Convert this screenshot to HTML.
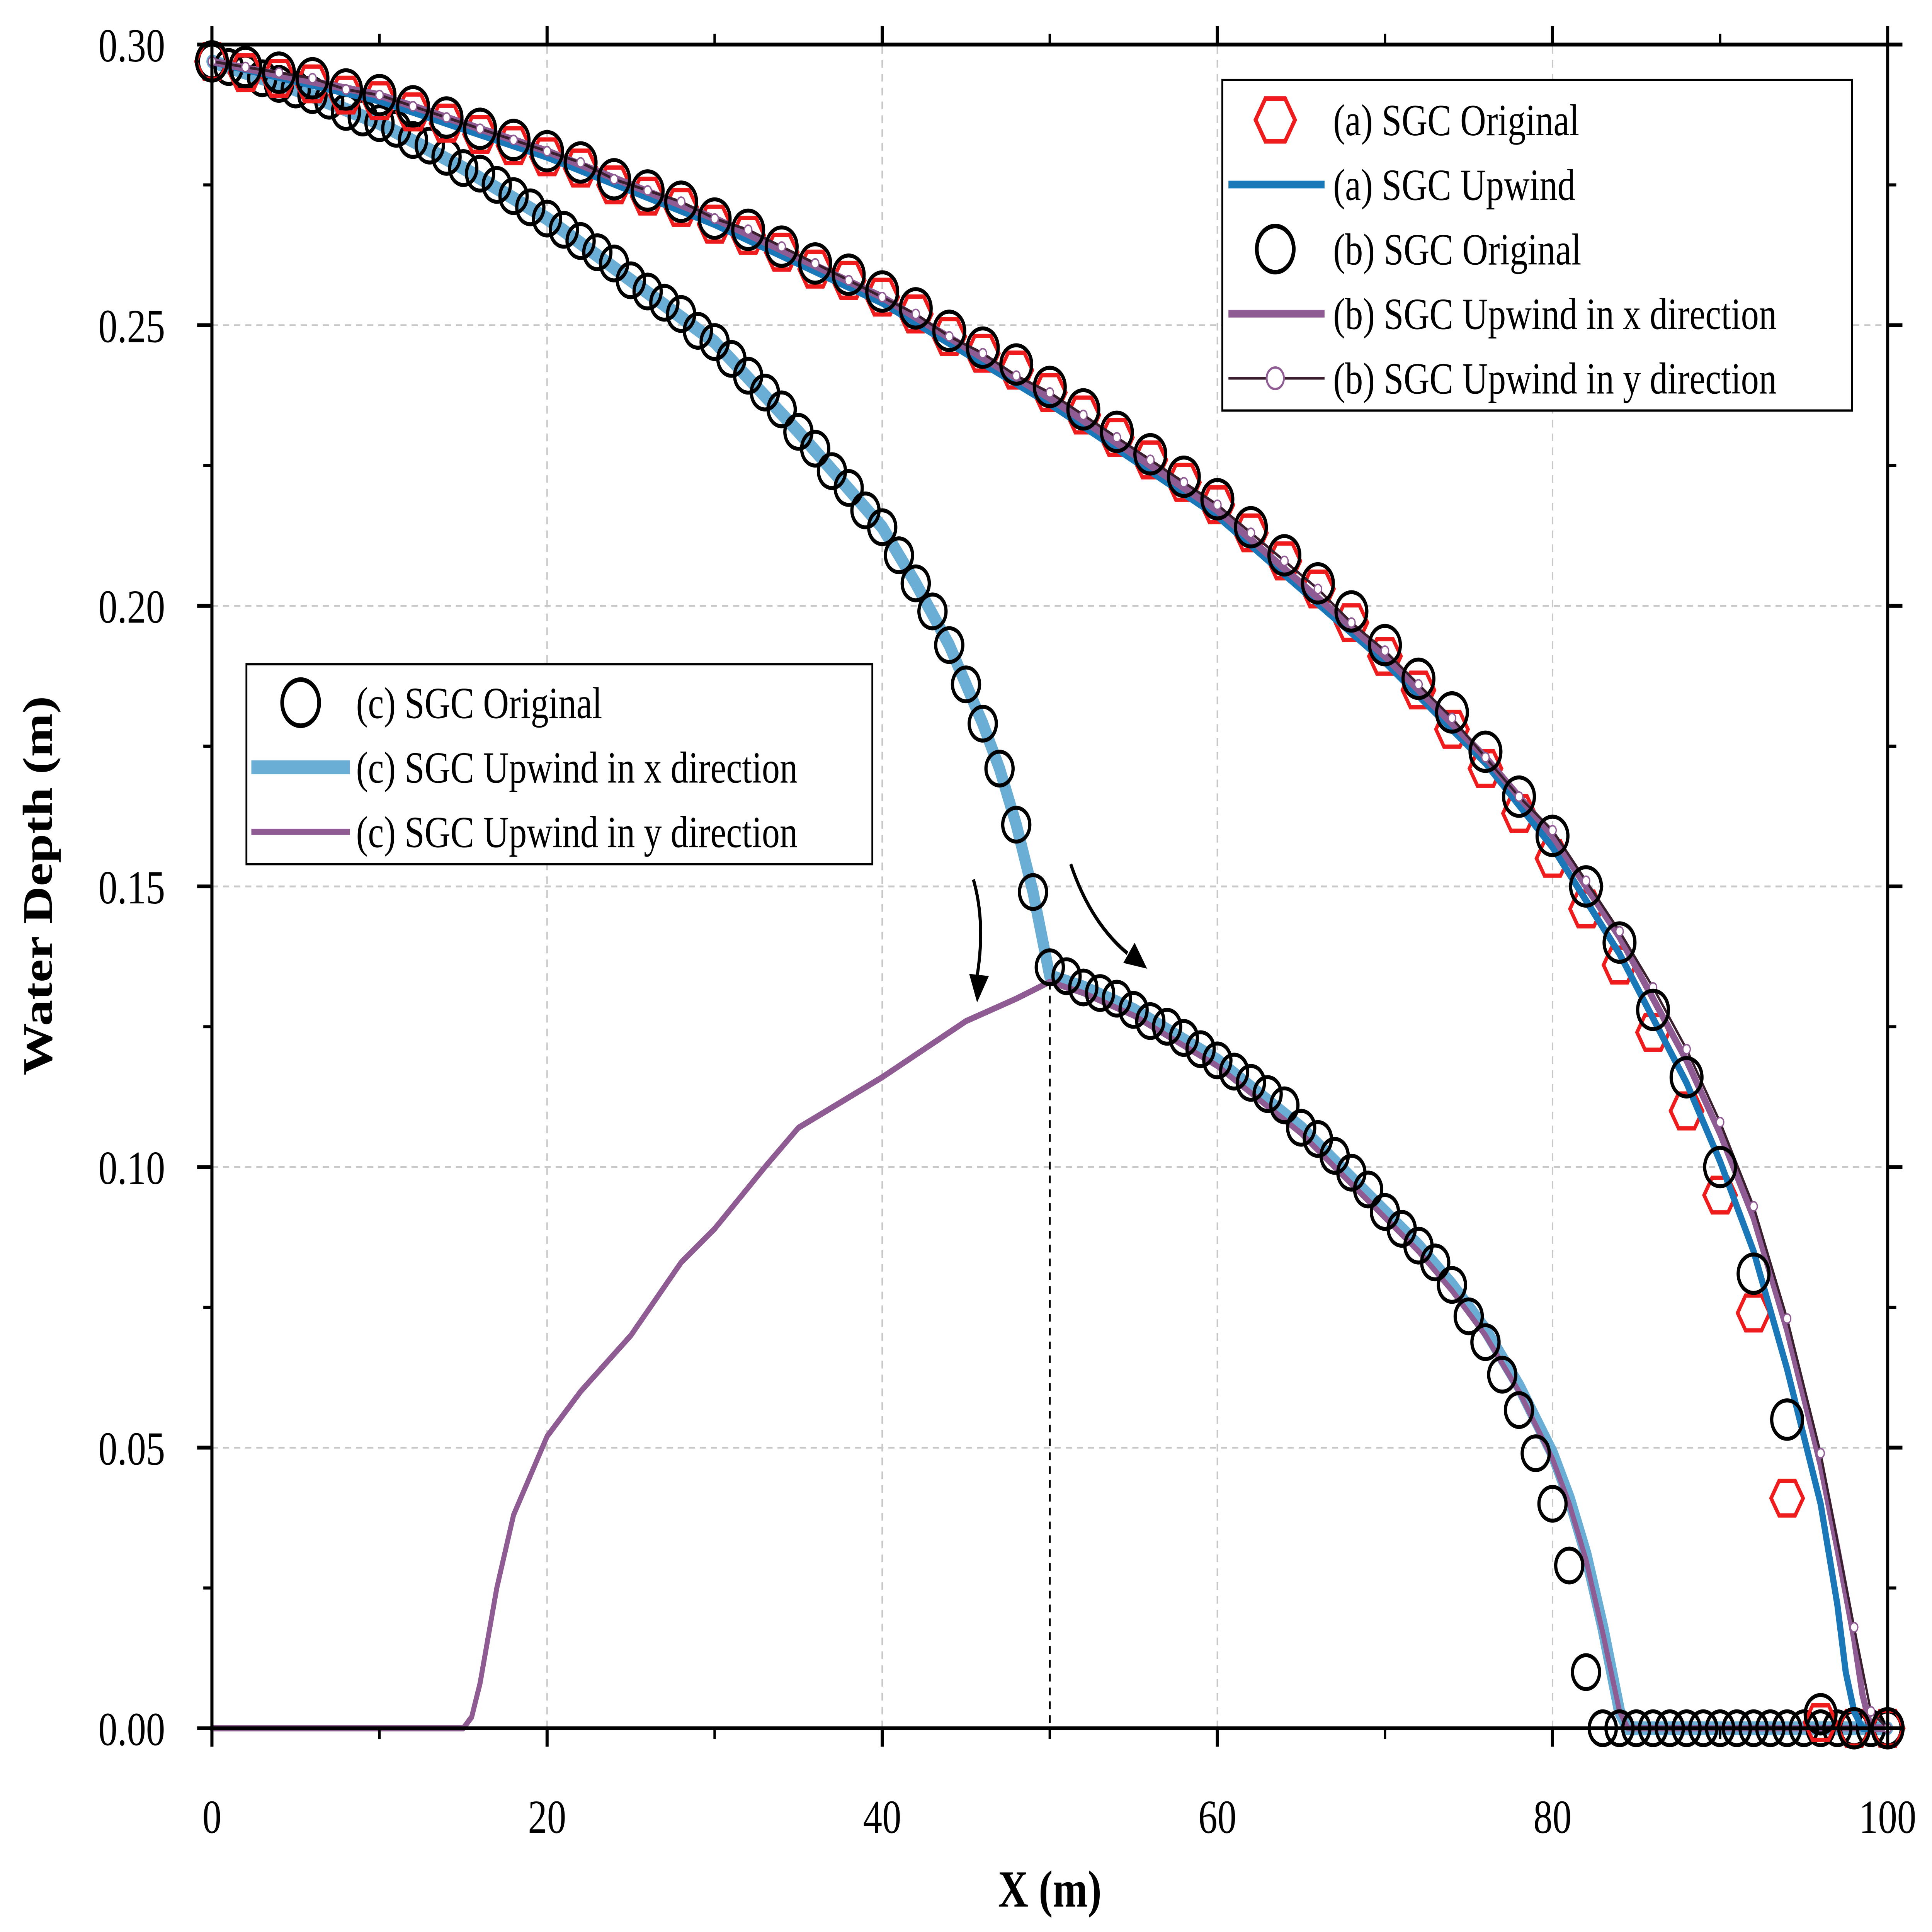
<!DOCTYPE html>
<html><head><meta charset="utf-8"><style>html,body{margin:0;padding:0;background:#fff;width:100%;height:100%;overflow:hidden}svg{display:block;position:fixed;left:0;top:0;width:100vw;height:100vh}</style></head>
<body>
<svg id="chart" viewBox="0 0 1568 1256.5" preserveAspectRatio="none" xmlns="http://www.w3.org/2000/svg" font-family="'Liberation Serif', serif">
<rect width="1568" height="1256.5" fill="#fff"/>
<g id="grid"></g>
<g id="series"></g>
<g id="axes"></g>
<g id="legends"></g>
</svg>
<script>
const xTicks=[0,20,40,60,80,100];
const yTicks=[0,0.05,0.10,0.15,0.20,0.25,0.30];
const yTickLabels=["0.00","0.05","0.10","0.15","0.20","0.25","0.30"];
const xStep2=[0,2,4,6,8,10,12,14,16,18,20,22,24,26,28,30,32,34,36,38,40,42,44,46,48,50,52,54,56,58,60,62,64,66,68,70,72,74,76,78,80,82,84,86,88,90,92,94,96,98,100];
const bOriginal=[.297,.296,.295,.294,.292,.291,.289,.287,.285,.283,.281,.279,.276,.274,.272,.269,.267,.264,.261,.259,.256,.253,.249,.246,.243,.239,.235,.231,.227,.223,.219,.214,.209,.204,.199,.193,.187,.181,.174,.166,.159,.150,.140,.128,.116,.100,.081,.055,.0025,0,0];
const aOriginal=[.297,.295,.294,.293,.291,.290,.288,.286,.284,.282,.280,.278,.275,.273,.271,.268,.266,.263,.260,.258,.255,.252,.248,.245,.242,.238,.234,.230,.226,.222,.218,.213,.208,.203,.197,.191,.185,.178,.171,.163,.155,.146,.136,.124,.110,.095,.074,.041,.001,0,0];
const aUpX=[0,10,20,30,40,50,60,70,76,80,84,88,90,92,94,96,97,97.5,98,98.5,100];
const aUpY=[.297,.290,.280,.268,.254,.236,.216,.190,.172,.157,.138,.115,.101,.085,.064,.040,.022,.010,.003,0,0];
const bUxX=[0,10,20,30,40,50,60,70,76,80,84,88,90,92,94,96,97,98,98.5,99,100];
const bUxY=[.297,.291,.281,.269,.255,.237,.217,.191,.173,.159,.141,.119,.106,.091,.071,.047,.032,.016,.006,0,0];
const bUyX=[0,2,4,6,8,10,12,14,16,18,20,22,24,26,28,30,32,34,36,38,40,42,44,46,48,50,52,54,56,58,60,62,64,66,68,70,72,74,76,78,80,82,84,86,88,90,92,94,96,98,99,100];
const bUyY=[.297,.296,.295,.294,.292,.291,.289,.287,.285,.283,.281,.279,.276,.274,.272,.269,.267,.264,.261,.258,.255,.252,.248,.245,.241,.238,.234,.230,.226,.222,.218,.213,.208,.203,.197,.192,.186,.180,.173,.166,.160,.151,.142,.132,.121,.108,.093,.073,.049,.018,.003,0];
const cOrigX=[0,1,2,3,4,5,6,7,8,9,10,11,12,13,14,15,16,17,18,19,20,21,22,23,24,25,26,27,28,29,30,31,32,33,34,35,36,37,38,39,40,41,42,43,44,45,46,47,48,49,50,51,52,53,54,55,56,57,58,59,60,61,62,63,64,65,66,67,68,69,70,71,72,73,74,75,76,77,78,79,80,81,82,83,84,85,86,87,88,89,90,91,92,93,94,95,96,97,98,99,100];
const cOrigY=[.297,.296,.295,.294,.293,.292,.291,.290,.288,.287,.286,.285,.283,.282,.280,.278,.277,.275,.273,.271,.269,.267,.265,.263,.261,.258,.256,.254,.252,.249,.247,.244,.241,.238,.235,.231,.228,.224,.221,.217,.214,.209,.204,.199,.193,.186,.179,.171,.161,.149,.1356,.134,.132,.131,.130,.128,.126,.125,.123,.121,.119,.117,.115,.113,.111,.107,.105,.102,.099,.096,.092,.089,.086,.083,.079,.0734,.0688,.063,.0567,.049,.040,.029,.010,0,0,0,0,0,0,0,0,0,0,0,0,0,0,0,0,0,0];
const cUxX=[0,5,10,15,20,25,30,35,40,42,44,46,47,48,49,50,52,55,60,65,70,72,74,76,78,80,81,82,83,84,84.5,100];
const cUxY=[.297,.292,.286,.278,.269,.258,.247,.231,.214,.204,.193,.179,.171,.161,.149,.134,.132,.128,.119,.107,.092,.086,.079,.071,.061,.049,.041,.031,.018,.003,0,0];
const cUyX=[0,15,15.5,16,17,18,20,22,25,28,30,33,35,40,45,48,50,52,55,60,65,70,72,74,76,78,80,81,82,83,84,84.5,100];
const cUyY=[0,0,.002,.008,.025,.038,.052,.060,.070,.083,.089,.100,.107,.116,.126,.130,.133,.131,.127,.118,.106,.091,.085,.078,.070,.060,.048,.040,.030,.017,.003,0,0];

const NS="http://www.w3.org/2000/svg";
const X0=172,X1=1532,Y0=1124,Y1=29;
function sx(v){return X0+(X1-X0)*v/100;}
function sy(v){return Y0-(Y0-Y1)*v/0.30;}
function mk(tag,attrs,parent){const e=document.createElementNS(NS,tag);for(const k in attrs)e.setAttribute(k,attrs[k]);parent.appendChild(e);return e;}
const grid=document.getElementById('grid'),series=document.getElementById('series'),axes=document.getElementById('axes'),legends=document.getElementById('legends');

xTicks.forEach(t=>{if(t>0&&t<100){const l=mk('line',{x1:sx(t),x2:sx(t),y1:Y0,y2:Y1,stroke:'#c8c8c8','stroke-width':1.2,'stroke-dasharray':'5,4'},grid);

}});
yTicks.forEach(t=>{if(t>0&&t<0.3){const l=mk('line',{x1:X0,x2:X1,y1:sy(t),y2:sy(t),stroke:'#c8c8c8','stroke-width':1.2,'stroke-dasharray':'5,4'},grid);

}});

function pathD(xs,ys){return xs.map((x,i)=>(i?'L':'M')+sx(x).toFixed(2)+','+sy(ys[i]).toFixed(2)).join(' ');}
function line(xs,ys,color,w,name){const p=mk('path',{d:pathD(xs,ys),fill:'none',stroke:color,'stroke-width':w,'stroke-linejoin':'round','stroke-linecap':'round'},series);

return p;}
function hexPts(cx,cy,r){let s=[];for(let i=0;i<6;i++){const a=Math.PI/3*i;s.push((cx+r*Math.cos(a)).toFixed(1)+','+(cy+r*Math.sin(a)).toFixed(1));}return s.join(' ');}

const dv=mk('line',{x1:sx(50),x2:sx(50),y1:sy(0.133),y2:Y0,stroke:'#000','stroke-width':1.5,'stroke-dasharray':'5,4'},series);



line(cUxX,cUxY,'#6aaed6',9,'c-upwind-x-line');
line(cUyX,cUyY,'#8e5b92',4,'c-upwind-y-line');
cOrigX.forEach((x,i)=>{const c=mk('circle',{cx:sx(x),cy:sy(cOrigY[i]),r:11,fill:'none',stroke:'#000','stroke-width':2.6},series);

});

xStep2.forEach((x,i)=>{const h=mk('polygon',{points:hexPts(sx(x),sy(aOriginal[i]),13),fill:'none',stroke:'#ee1c1c','stroke-width':2.8},series);

});
line(aUpX,aUpY,'#1a78b8',5,'a-upwind-line');
line(bUxX,bUxY,'#8e5b92',5,'b-upwind-x-line');
line(bUyX,bUyY,'#3a1f2f',1.8,'b-upwind-y-line');
bUyX.forEach((x,i)=>{const c=mk('circle',{cx:sx(x),cy:sy(bUyY[i]),r:3,fill:'#fff',stroke:'#8e5b92','stroke-width':1},series);

});
xStep2.forEach((x,i)=>{const c=mk('circle',{cx:sx(x),cy:sy(bOriginal[i]),r:12.5,fill:'none',stroke:'#000','stroke-width':2.6},series);

});

function arrow(d,hx,hy,ang,name){const g=mk('g',{},series);


mk('path',{d:d,fill:'none',stroke:'#000','stroke-width':2.5},g);
mk('polygon',{points:'0,0 -18,-8 -18,8',fill:'#000',transform:`translate(${hx},${hy}) rotate(${ang})`},g);}
arrow('M790,572 Q800,600 793,635',793,652,95,'arrow-down');
arrow('M869,562 Q885,600 915,620',931,630,35,'arrow-right-down');

const fr=mk('rect',{x:X0,y:Y1,width:X1-X0,height:Y0-Y1,fill:'none',stroke:'#000','stroke-width':2.5},axes);


xTicks.forEach(t=>{mk('line',{x1:sx(t),x2:sx(t),y1:Y0,y2:Y0+12,stroke:'#000','stroke-width':2.5},axes);
mk('line',{x1:sx(t),x2:sx(t),y1:Y1,y2:Y1-12,stroke:'#000','stroke-width':2.5},axes);
const tx=mk('text',{x:sx(t),y:1192,'font-size':31,'text-anchor':'middle',fill:'#000'},axes);tx.textContent=String(t);

});
[10,30,50,70,90].forEach(t=>{mk('line',{x1:sx(t),x2:sx(t),y1:Y0,y2:Y0+7,stroke:'#000','stroke-width':2},axes);mk('line',{x1:sx(t),x2:sx(t),y1:Y1,y2:Y1-7,stroke:'#000','stroke-width':2},axes);});
yTicks.forEach((t,i)=>{mk('line',{x1:X0-12,x2:X0,y1:sy(t),y2:sy(t),stroke:'#000','stroke-width':2.5},axes);
mk('line',{x1:X1,x2:X1+12,y1:sy(t),y2:sy(t),stroke:'#000','stroke-width':2.5},axes);
const tx=mk('text',{x:134,y:sy(t)+11,'font-size':31,'text-anchor':'end',fill:'#000'},axes);tx.textContent=yTickLabels[i];

});
[0.025,0.075,0.125,0.175,0.225,0.275].forEach(t=>{mk('line',{x1:X0-7,x2:X0,y1:sy(t),y2:sy(t),stroke:'#000','stroke-width':2},axes);mk('line',{x1:X1,x2:X1+7,y1:sy(t),y2:sy(t),stroke:'#000','stroke-width':2},axes);});
const xt=mk('text',{x:852,y:1240,'font-size':34,'font-weight':'bold','text-anchor':'middle'},axes);xt.textContent='X (m)';


const yt=mk('text',{x:0,y:0,'font-size':34,'font-weight':'bold','text-anchor':'middle',transform:'translate(42,576) rotate(-90)'},axes);yt.textContent='Water Depth (m)';



function legendBox(x,y,w,h,name){const r=mk('rect',{x:x,y:y,width:w,height:h,fill:'#fff',stroke:'#000','stroke-width':1.5},legends);

}
function legText(x,y,s){const t=mk('text',{x:x,y:y+10,'font-size':29,fill:'#000'},legends);t.textContent=s;

}
legendBox(992,52,511,215,'legend-ab');
mk('polygon',{points:hexPts(1035,78,16),fill:'none',stroke:'#ee1c1c','stroke-width':3},legends);legText(1082,78,'(a) SGC Original');
mk('line',{x1:997,x2:1075,y1:120,y2:120,stroke:'#1a78b8','stroke-width':5},legends);legText(1082,120,'(a) SGC Upwind');
mk('circle',{cx:1035,cy:162,r:15,fill:'none',stroke:'#000','stroke-width':3},legends);legText(1082,162,'(b) SGC Original');
mk('line',{x1:997,x2:1075,y1:204,y2:204,stroke:'#8e5b92','stroke-width':5},legends);legText(1082,204,'(b) SGC Upwind in x direction');
mk('line',{x1:997,x2:1075,y1:246,y2:246,stroke:'#3a1f2f','stroke-width':1.8},legends);mk('circle',{cx:1035,cy:246,r:7,fill:'#fff',stroke:'#8e5b92','stroke-width':1.5},legends);legText(1082,246,'(b) SGC Upwind in y direction');
legendBox(200,432,508,130,'legend-c');
mk('circle',{cx:244,cy:457,r:15,fill:'none',stroke:'#000','stroke-width':3},legends);legText(289,457,'(c) SGC Original');
mk('line',{x1:204,x2:284,y1:499,y2:499,stroke:'#6aaed6','stroke-width':9},legends);legText(289,499,'(c) SGC Upwind in x direction');
mk('line',{x1:204,x2:284,y1:541,y2:541,stroke:'#8e5b92','stroke-width':4},legends);legText(289,541,'(c) SGC Upwind in y direction');
</script>
</body></html>
